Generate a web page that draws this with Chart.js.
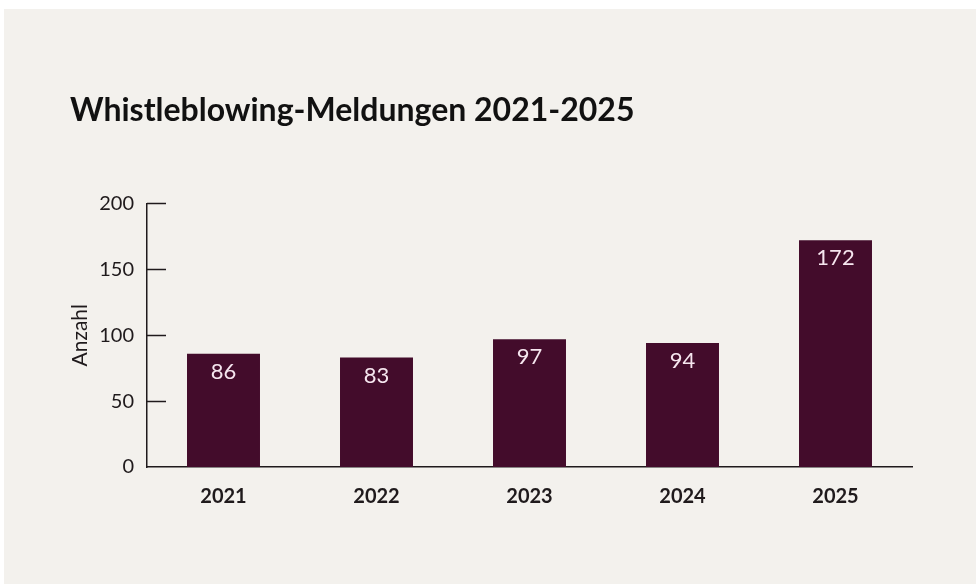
<!DOCTYPE html>
<html lang="de">
<head>
<meta charset="utf-8">
<script src="https://cdn.jsdelivr.net/npm/chart.js@4"></script>
<style>
  html, body { margin: 0; padding: 0; background: #ffffff; }
  #panel {
    position: absolute; left: 4px; top: 9px;
    width: 972px; height: 575px;
    background: #f3f1ed;
  }
</style>
</head>
<body>
<div id="panel"><canvas id="chart" width="972" height="575"></canvas></div>
<script>
'use strict';

const years   = ['2021', '2022', '2023', '2024', '2025'];
const counts  = [86, 83, 97, 94, 172];
const yTicks  = [0, 50, 100, 150, 200];

const INK   = '#1f1a1c';
const BAR   = '#430c2b';
const LABEL = '#f6e6ef';
const FONT  = 'Lato, "Open Sans", sans-serif';

// tick marks drawn inward from the y axis line
const innerTicks = {
  id: 'innerTicks',
  afterDraw(chart) {
    const { ctx, chartArea, scales } = chart;
    ctx.save();
    ctx.strokeStyle = INK;
    ctx.lineWidth = 1.5;
    yTicks.forEach(v => {
      if (v === 0) return;
      const y = Math.round(scales.y.getPixelForValue(v)) + 0.5;
      ctx.beginPath();
      ctx.moveTo(chartArea.left, y);
      ctx.lineTo(chartArea.left + 19, y);
      ctx.stroke();
    });
    ctx.restore();
  },
};

// value labels inside the top of each bar
const barLabels = {
  id: 'barLabels',
  afterDatasetsDraw(chart) {
    const { ctx } = chart;
    const meta = chart.getDatasetMeta(0);
    ctx.save();
    ctx.fillStyle = LABEL;
    ctx.font = '22px ' + FONT;
    ctx.textAlign = 'center';
    ctx.textBaseline = 'middle';
    meta.data.forEach((bar, i) => {
      ctx.fillText(String(counts[i]), bar.x, bar.y + 18);
    });
    ctx.restore();
  },
};

new Chart(document.getElementById('chart').getContext('2d'), {
  type: 'bar',
  data: {
    labels: years,
    datasets: [{
      data: counts,
      backgroundColor: BAR,
      borderWidth: 0,
      categoryPercentage: 1,
      barPercentage: 0.477,
    }],
  },
  plugins: [innerTicks, barLabels],
  options: {
    responsive: false,
    animation: false,
    devicePixelRatio: 1,
    layout: { padding: { left: 66, right: 64, top: 0, bottom: 60 } },
    plugins: {
      legend: { display: false },
      tooltip: { enabled: false },
      title: {
        display: true,
        text: 'Whistleblowing-Meldungen 2021-2025',
        align: 'start',
        color: '#111111',
        font: { family: FONT, size: 32, weight: 'bold' },
        padding: { top: 82, bottom: 74 },
      },
    },
    scales: {
      x: {
        grid: { display: false, drawTicks: false },
        border: { display: true, color: INK, width: 1.5 },
        ticks: {
          color: INK,
          padding: 18,
          font: { family: FONT, size: 20, weight: 'bold' },
        },
        afterFit: s => { s.height = 57; },
      },
      y: {
        min: 0,
        max: 200,
        afterBuildTicks: s => { s.ticks = yTicks.map(v => ({ value: v })); },
        grid: { display: false, drawTicks: false },
        border: { display: true, color: INK, width: 1.5 },
        ticks: {
          color: INK,
          padding: 13,
          font: { family: FONT, size: 20 },
        },
        title: {
          display: true,
          text: 'Anzahl',
          color: INK,
          padding: 0,
          font: { family: FONT, size: 21, lineHeight: 1 },
        },
        afterFit: s => { s.width = 77; },
      },
    },
  },
});
</script>
</body>
</html>
